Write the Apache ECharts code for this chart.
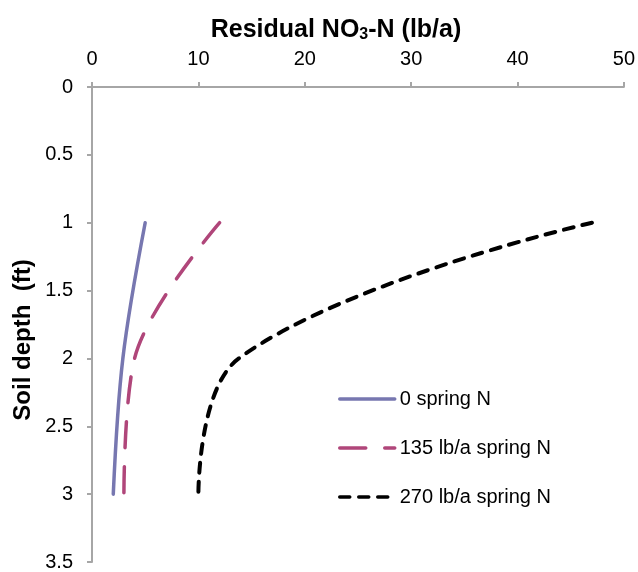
<!DOCTYPE html>
<html><head><meta charset="utf-8">
<script src="https://cdn.jsdelivr.net/npm/echarts@6/dist/echarts.min.js"></script>
<style>html,body{margin:0;padding:0;background:#fff}#c{width:638px;height:572px}</style>
</head><body><div id="c"></div>
<script>
var depths = [1, 2, 3];
var n0 = [5, 2.9, 2];
var n135 = [12, 4.0, 3];
var n270 = [47, 13.8, 10];
var seriesNames = ['0 spring N', '135 lb/a spring N', '270 lb/a spring N'];
var xTicks = [0, 50, 10];
var yTicks = [0, 3.5, 0.5];

function pts(vals){ return vals.map(function(v,i){ return [v, depths[i]]; }); }
var font = '"Liberation Sans", Arial, sans-serif';
var chart = echarts.init(document.getElementById('c'));
chart.setOption({
  animation: false,
  textStyle: {fontFamily: font},
  grid: {left: 92, right: 14, top: 87, bottom: 7},
  graphic: [
    {type: 'text', x: 336, y: 30, style: {
      text: '{b|Residual NO}{s|3}{b|-N (lb/a)}',
      align: 'center', verticalAlign: 'middle',
      rich: {b: {fontSize: 25, fontWeight: 'bold', fill: '#000', fontFamily: font},
             s: {fontSize: 16, fontWeight: 'bold', fill: '#000', fontFamily: font, padding: [10,0,0,0]}}
    }},
    {type: 'text', x: 23, y: 340, rotation: Math.PI/2, style: {
      text: 'Soil depth  (ft)', fontSize: 24, fontWeight: 'bold', fill: '#000', fontFamily: font,
      align: 'center', verticalAlign: 'middle'
    }}
  ],
  xAxis: {type: 'value', position: 'top', min: xTicks[0], max: xTicks[1], interval: xTicks[2],
    axisLine: {lineStyle: {color: '#a6a6a6', width: 2}},
    axisTick: {show: true, length: 5, lineStyle: {color: '#a6a6a6', width: 2}},
    axisLabel: {fontSize: 20, color: '#000', margin: 18, fontFamily: font},
    splitLine: {show: false}},
  yAxis: {type: 'value', inverse: true, min: yTicks[0], max: yTicks[1], interval: yTicks[2],
    axisLine: {show: true, lineStyle: {color: '#a6a6a6', width: 2}},
    axisTick: {show: true, length: 5, lineStyle: {color: '#a6a6a6', width: 2}},
    axisLabel: {fontSize: 20, color: '#000', margin: 19, fontFamily: font},
    splitLine: {show: false}},
  legend: {orient: 'vertical', left: 333, top: 384, itemWidth: 55, itemHeight: 20, itemGap: 29,
    itemStyle: {opacity: 0},
    lineStyle: {width: 3.5, cap: 'round'},
    textStyle: {fontSize: 20, color: '#000', fontFamily: font},
    data: seriesNames},
  series: [
    {name: seriesNames[0], type: 'line', data: pts(n0), smooth: 0.35, symbol: 'none',
     lineStyle: {color: '#7777b0', width: 3.5, cap: 'round'}, itemStyle: {color: '#7777b0'}},
    {name: seriesNames[1], type: 'line', data: pts(n135), smooth: 0.35, symbol: 'none',
     lineStyle: {color: '#b0467a', width: 3.5, type: [26, 19], cap: 'round'}, itemStyle: {color: '#b0467a'}},
    {name: seriesNames[2], type: 'line', data: pts(n270), smooth: 0.4, symbol: 'none',
     lineStyle: {color: '#000', width: 4, type: [10, 9], cap: 'round'}, itemStyle: {color: '#000'}}
  ]
});
</script></body></html>
